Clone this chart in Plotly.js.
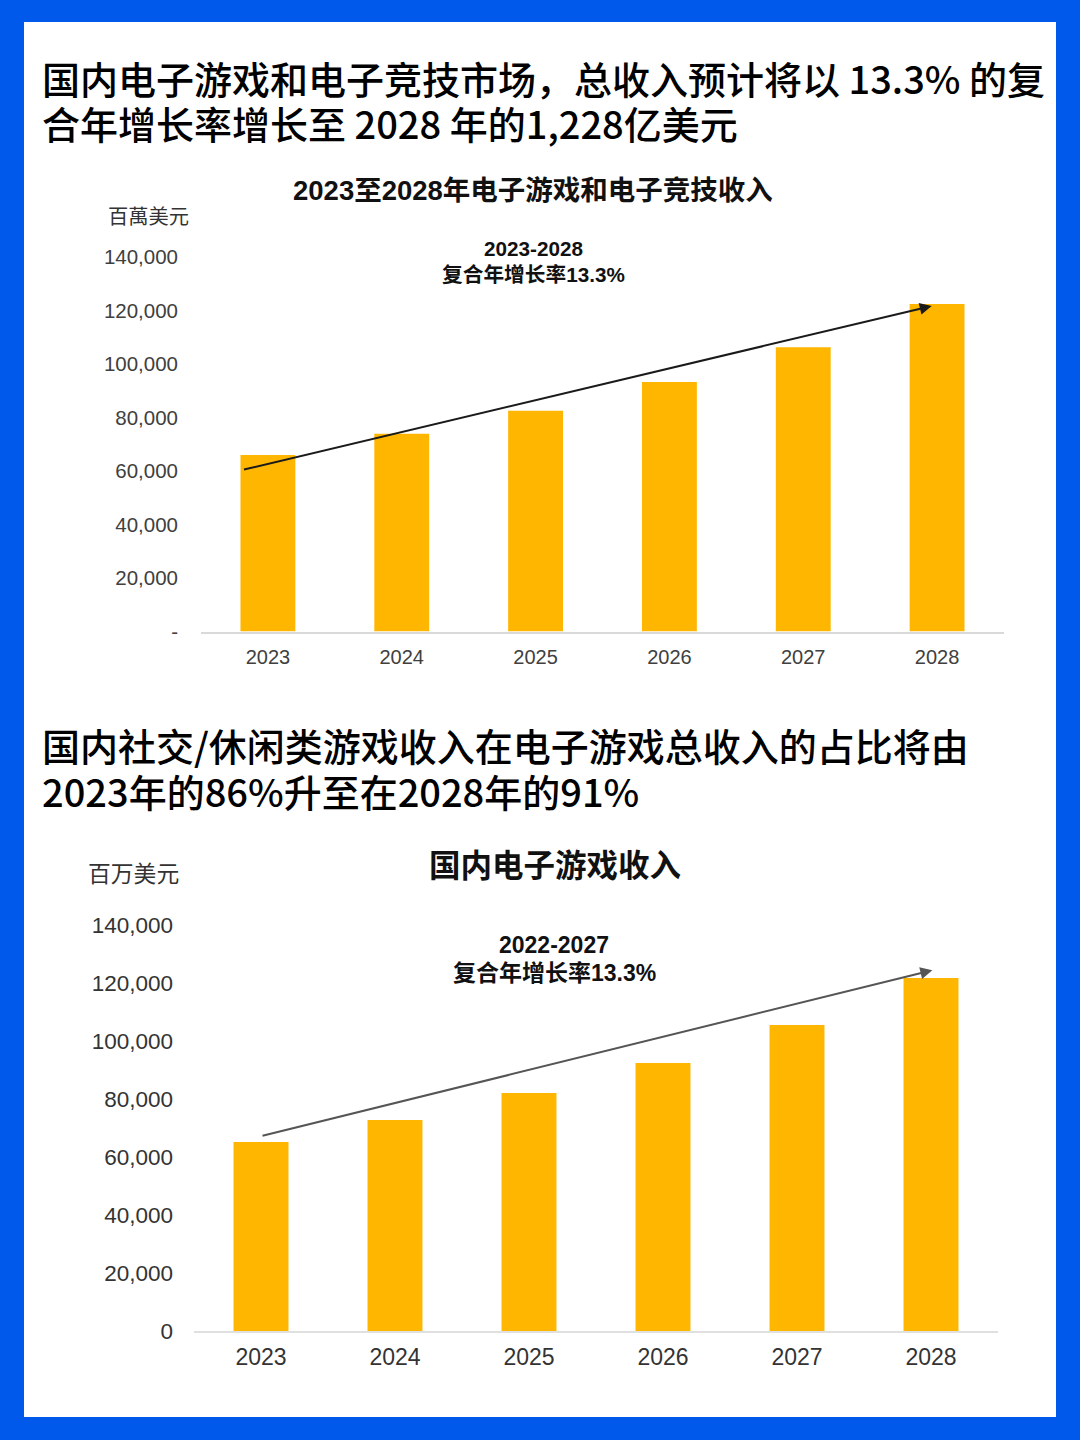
<!DOCTYPE html>
<html>
<head>
<meta charset="utf-8">
<script src="https://cdn.plot.ly/plotly-3.0.1.min.js"></script>
<style>
html,body{margin:0;padding:0;background:#0059ea;}
#chart{width:1080px;height:1440px;}
</style>
</head>
<body>
<div id="chart"></div>
<script>
// ---- data ----
const years = ['2023', '2024', '2025', '2026', '2027', '2028'];
const revenueEsports = [66000, 73900, 82500, 93300, 106300, 122400];   // chart 1, USD million
const revenueGames = [65200, 72800, 82100, 92400, 105500, 121700];     // chart 2, USD million
const yTickVals = [0, 20000, 40000, 60000, 80000, 100000, 120000, 140000];
const yTickText1 = ['-', '20,000', '40,000', '60,000', '80,000', '100,000', '120,000', '140,000'];
const yTickText2 = ['0', '20,000', '40,000', '60,000', '80,000', '100,000', '120,000', '140,000'];
// CAGR trend arrows: [category index, value]
const arrow1Start = [-0.19, 60400];
const arrow1End = [4.96, 121700];
const arrow2Start = [0.0, 67200];
const arrow2End = [5.01, 124400];

const heading1 = ['国内电子游戏和电子竞技市场，总收入预计将以 13.3% 的复', '合年增长率增长至 2028 年的1,228亿美元'];
const heading2 = ['国内社交/休闲类游戏收入在电子游戏总收入的占比将由', '2023年的86%升至在2028年的91%'];
const title1 = '2023至2028年电子游戏和电子竞技收入';
const title2 = '国内电子游戏收入';
const unit1 = '百萬美元';
const unit2 = '百万美元';
const cagr1 = ['2023-2028', '复合年增长率13.3%'];
const cagr2 = ['2022-2027', '复合年增长率13.3%'];

// ---- helpers (pixel -> paper) ----
const W = 1080, H = 1440;
const px = v => v / W;
const py = v => 1 - v / H;
const LAT = 'Liberation Sans, Arial, Noto Sans CJK SC, sans-serif';
const CJK = 'Noto Sans CJK SC, sans-serif';
const BAR = '#ffb600';

const traces = [
  {type: 'bar', x: years, y: revenueEsports, xaxis: 'x', yaxis: 'y',
   marker: {color: BAR}, hoverinfo: 'skip'},
  {type: 'bar', x: years, y: revenueGames, xaxis: 'x2', yaxis: 'y2',
   marker: {color: BAR}, hoverinfo: 'skip'}
];

function txt(text, x, y, size, opts) {
  return Object.assign({
    text: text, xref: 'paper', yref: 'paper', x: px(x), y: py(y),
    xanchor: 'center', yanchor: 'middle', showarrow: false,
    font: {family: LAT, size: size, color: '#111'}
  }, opts || {});
}

const headFont = {family: CJK, size: 38, color: '#000', weight: 500};

const annotations = [
  txt(heading1[0], 40, 77, 38, {xanchor: 'left', font: headFont}),
  txt(heading1[1], 40, 122, 38, {xanchor: 'left', font: headFont}),
  txt(heading2[0], 40, 744, 38, {xanchor: 'left', font: headFont}),
  txt(heading2[1], 40, 790, 38, {xanchor: 'left', font: headFont}),
  txt('<b>' + title1 + '</b>', 533, 191, 27.5, {font: {family: LAT, size: 27.5, color: '#111'}}),
  txt('<b>' + title2 + '</b>', 555, 866, 31.5, {font: {family: LAT, size: 31.5, color: '#111'}}),
  txt(unit1, 148, 217, 20.3, {font: {family: LAT, size: 20.3, color: '#333'}}),
  txt(unit2, 133, 874, 22.8, {font: {family: LAT, size: 22.8, color: '#333'}}),
  txt('<b>' + cagr1[0] + '</b>', 533, 249, 20.7, {font: {family: LAT, size: 20.7, color: '#111'}}),
  txt('<b>' + cagr1[1] + '</b>', 533, 274, 20.7, {font: {family: LAT, size: 20.7, color: '#111'}}),
  txt('<b>' + cagr2[0] + '</b>', 554, 945, 23, {font: {family: LAT, size: 23, color: '#111'}}),
  txt('<b>' + cagr2[1] + '</b>', 554, 973, 23, {font: {family: LAT, size: 23, color: '#111'}}),
  {xref: 'x', yref: 'y', axref: 'x', ayref: 'y', x: arrow1End[0], y: arrow1End[1],
   ax: arrow1Start[0], ay: arrow1Start[1], text: '', showarrow: true,
   arrowhead: 2, arrowsize: 1.2, arrowwidth: 2, arrowcolor: '#1a1a1a'},
  {xref: 'x2', yref: 'y2', axref: 'x2', ayref: 'y2', x: arrow2End[0], y: arrow2End[1],
   ax: arrow2Start[0], ay: arrow2Start[1], text: '', showarrow: true,
   arrowhead: 2, arrowsize: 1.2, arrowwidth: 2, arrowcolor: '#555'}
];

const layout = {
  width: W, height: H,
  margin: {l: 0, r: 0, t: 0, b: 0},
  paper_bgcolor: '#0059ea',
  plot_bgcolor: '#ffffff',
  showlegend: false,
  bargap: 0.59,
  shapes: [{type: 'rect', xref: 'paper', yref: 'paper', layer: 'below',
            x0: px(24), x1: px(1056), y0: py(1417), y1: py(22),
            fillcolor: '#ffffff', line: {width: 0}}],
  xaxis: {domain: [px(201), px(1004)], anchor: 'y', type: 'category',
          showline: true, linecolor: '#d9d9d9', linewidth: 2, showgrid: false,
          ticks: '', ticklabelstandoff: 6, fixedrange: true,
          tickfont: {family: LAT, size: 20, color: '#404040'}},
  yaxis: {domain: [py(631.5), py(257)], anchor: 'x', range: [0, 140000],
          tickvals: yTickVals, ticktext: yTickText1, showgrid: false, zeroline: false,
          showline: false, ticks: '', ticklabelstandoff: 22, fixedrange: true,
          tickfont: {family: LAT, size: 20.5, color: '#404040'}},
  xaxis2: {domain: [px(194), px(998)], anchor: 'y2', type: 'category',
           showline: true, linecolor: '#e0e0e0', linewidth: 2, showgrid: false,
           ticks: '', ticklabelstandoff: 4, fixedrange: true,
           tickfont: {family: LAT, size: 23, color: '#333'}},
  yaxis2: {domain: [py(1331), py(925)], anchor: 'x2', range: [0, 140000],
           tickvals: yTickVals, ticktext: yTickText2, showgrid: false, zeroline: false,
           showline: false, ticks: '', ticklabelstandoff: 20, fixedrange: true,
           tickfont: {family: LAT, size: 22.5, color: '#333'}},
  annotations: annotations
};

Plotly.newPlot('chart', traces, layout, {staticPlot: true, displayModeBar: false});
</script>
</body>
</html>
